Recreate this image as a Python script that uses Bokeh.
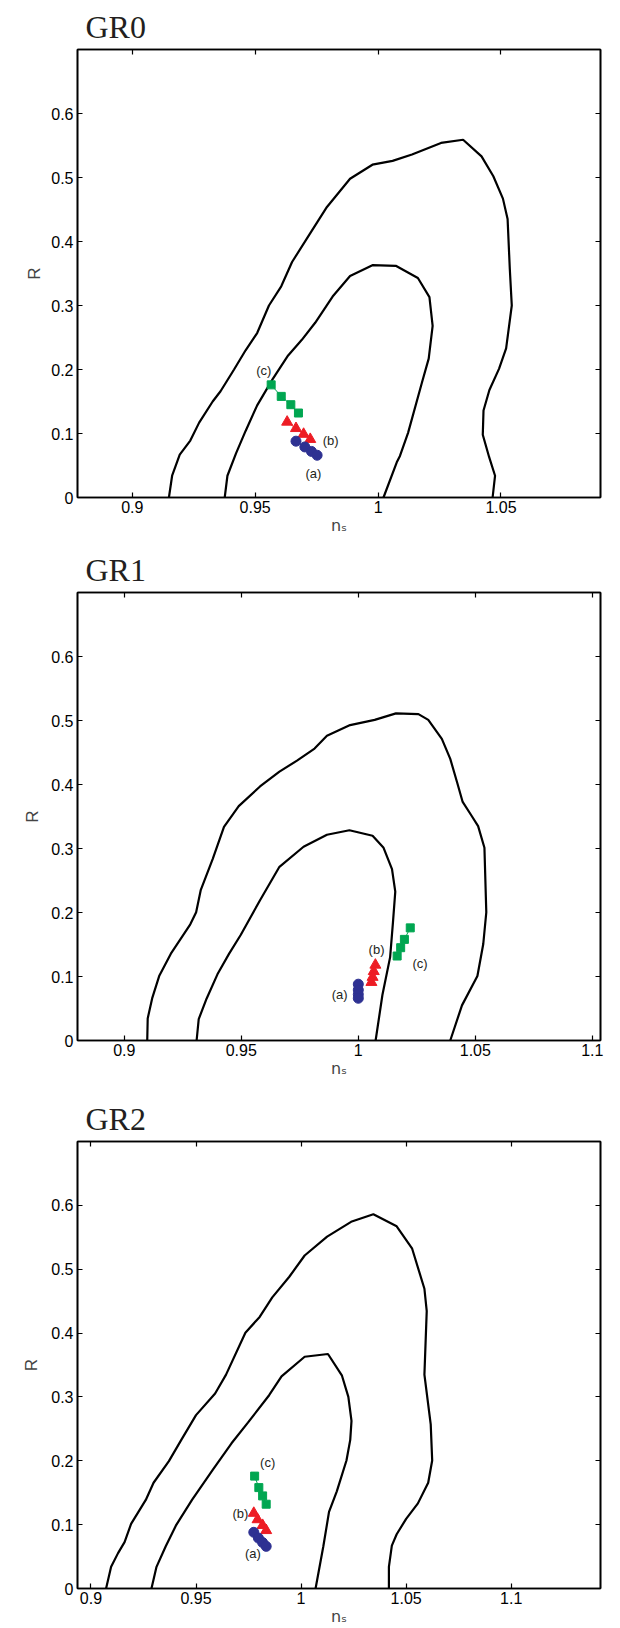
from bokeh.plotting import figure
from bokeh.layouts import column
from bokeh.models import LinearAxis, Range1d, FixedTicker
from bokeh.embed import file_html
from bokeh.resources import INLINE
from bokeh.core.properties import value

# ---------------- data ----------------
titles = ["GR0", "GR1", "GR2"]
x_label = "n\u209b"
y_label = "R"
x_ranges = [(0.8777, 1.0905), (0.8800, 1.1035), (0.8936, 1.1425)]
x_ticks = [[0.9, 0.95, 1.0, 1.05], [0.9, 0.95, 1.0, 1.05, 1.1], [0.9, 0.95, 1.0, 1.05, 1.1]]
x_tick_labels = {0.9: "0.9", 0.95: "0.95", 1.0: "1", 1.05: "1.05", 1.1: "1.1"}
y_ticks = [0, 0.1, 0.2, 0.3, 0.4, 0.5, 0.6]
y_tick_labels = {0: "0", 0.1: "0.1", 0.2: "0.2", 0.3: "0.3", 0.4: "0.4", 0.5: "0.5", 0.6: "0.6"}

# GR0 contours
gr0_outer_ns = [0.9149, 0.9162, 0.9193, 0.9236, 0.9272, 0.9327, 0.9359, 0.9414, 0.9461, 0.9508,
                0.9556, 0.9606, 0.9650, 0.9721, 0.9792, 0.9886, 0.9977, 1.0059, 1.0138, 1.0256,
                1.0346, 1.0421, 1.0469, 1.0508, 1.0527, 1.0536, 1.0544, 1.0521, 1.0492, 1.0453,
                1.0429, 1.0426, 1.0452, 1.0476, 1.0466]
gr0_outer_r = [0.0, 0.034, 0.067, 0.089, 0.117, 0.150, 0.166, 0.200, 0.230, 0.257,
               0.300, 0.330, 0.368, 0.411, 0.454, 0.498, 0.520, 0.526, 0.536, 0.554,
               0.559, 0.533, 0.502, 0.467, 0.435, 0.357, 0.300, 0.233, 0.201, 0.168,
               0.136, 0.098, 0.063, 0.034, 0.0]
gr0_inner_ns = [0.9376, 0.9387, 0.9422, 0.9461, 0.9508, 0.9571, 0.9634, 0.9689, 0.9744, 0.9815,
                0.9886, 0.9977, 1.0072, 1.0162, 1.0209, 1.0222, 1.0206, 1.0178, 1.0122, 1.0089,
                1.0076, 1.0022]
gr0_inner_r = [0.0, 0.034, 0.069, 0.104, 0.144, 0.185, 0.222, 0.246, 0.273, 0.314,
               0.346, 0.363, 0.362, 0.343, 0.313, 0.268, 0.217, 0.179, 0.101, 0.065,
               0.055, 0.0]

# GR1 contours
gr1_outer_ns = [0.9098, 0.9100, 0.9119, 0.9149, 0.9199, 0.9282, 0.9307, 0.9327, 0.9378, 0.9426,
                0.9489, 0.9580, 0.9663, 0.9738, 0.9813, 0.9866, 0.9965, 1.0070, 1.0161, 1.0257,
                1.0299, 1.0357, 1.0393, 1.0423, 1.0446, 1.0484, 1.0512, 1.0539, 1.0547, 1.0534,
                1.0509, 1.0443, 1.0393]
gr1_outer_r = [0.0, 0.0345, 0.0657, 0.1007, 0.1357, 0.1815, 0.2004, 0.2354, 0.2838, 0.3339,
               0.3662, 0.3969, 0.4201, 0.4373, 0.4562, 0.4761, 0.4928, 0.5009, 0.5111, 0.5100,
               0.5009, 0.4713, 0.4400, 0.4023, 0.3727, 0.3512, 0.3350, 0.3011, 0.2004, 0.1508,
               0.1007, 0.0549, 0.0]
gr1_inner_ns = [0.9309, 0.9318, 0.9352, 0.9398, 0.9448, 0.9498, 0.9580, 0.9663, 0.9766, 0.9866,
                0.9962, 1.0061, 1.0108, 1.0144, 1.0158, 1.0148, 1.0136, 1.0103, 1.0074]
gr1_inner_r = [0.0, 0.0334, 0.0657, 0.1034, 0.1357, 0.1653, 0.2192, 0.2714, 0.3027, 0.3215,
               0.3285, 0.3199, 0.3011, 0.2677, 0.2327, 0.1842, 0.1303, 0.0711, 0.0]

# GR2 contours
gr2_outer_ns = [0.9072, 0.9096, 0.9129, 0.9160, 0.9191, 0.9261, 0.9298, 0.9371, 0.9430, 0.9500,
                0.9591, 0.9643, 0.9735, 0.9803, 0.9863, 0.9944, 1.0017, 1.0124, 1.0238, 1.0344,
                1.0455, 1.0528, 1.0587, 1.0598, 1.0587, 1.0617, 1.0624, 1.0605, 1.0556, 1.0500,
                1.0455, 1.0432, 1.0418, 1.0418]
gr2_outer_r = [0.0, 0.0339, 0.0554, 0.0726, 0.1011, 0.1387, 0.1656, 0.1995, 0.2328, 0.2715,
               0.3054, 0.3349, 0.4005, 0.4253, 0.4559, 0.4882, 0.5215, 0.5511, 0.5742, 0.5860,
               0.5672, 0.5328, 0.4694, 0.4344, 0.3349, 0.2570, 0.2005, 0.1656, 0.1333, 0.1091,
               0.0849, 0.0672, 0.0339, 0.0]
gr2_inner_ns = [0.9288, 0.9312, 0.9356, 0.9404, 0.9481, 0.9582, 0.9669, 0.9747, 0.9848, 0.9907,
                1.0017, 1.0128, 1.0194, 1.0225, 1.0240, 1.0234, 1.0216, 1.0170, 1.0133, 1.0106,
                1.0069]
gr2_inner_r = [0.0, 0.0339, 0.0661, 0.0984, 0.1387, 0.1871, 0.2274, 0.2597, 0.3027, 0.3323,
               0.3629, 0.3672, 0.3339, 0.3000, 0.2624, 0.2328, 0.2005, 0.1522, 0.1199, 0.0661,
               0.0]

# model predictions: R values (same in all panels)
a_r = [0.088, 0.079, 0.072, 0.066]
b_r = [0.118, 0.108, 0.099, 0.091]
c_r = [0.176, 0.158, 0.145, 0.132]
# n_s values per panel
gr0_a_ns = [0.9666, 0.9702, 0.9729, 0.9752]
gr0_b_ns = [0.9630, 0.9666, 0.9697, 0.9724]
gr0_c_ns = [0.9565, 0.9606, 0.9645, 0.9676]
gr1_a_ns = [1.0000, 1.0000, 1.0000, 1.0000]
gr1_b_ns = [1.0073, 1.0066, 1.0061, 1.0056]
gr1_c_ns = [1.0222, 1.0197, 1.0181, 1.0166]
gr2_a_ns = [0.9775, 0.9797, 0.9817, 0.9834]
gr2_b_ns = [0.9775, 0.9793, 0.9817, 0.9834]
gr2_c_ns = [0.9779, 0.9799, 0.9817, 0.9834]

# (a), (b), (c) annotation positions per panel
tag_text = ["(a)", "(b)", "(c)"]
gr0_tag_ns = [0.9737, 0.9807, 0.9535]
gr0_tag_r = [0.038, 0.089, 0.198]
gr1_tag_ns = [0.9920, 1.0078, 1.0264]
gr1_tag_r = [0.072, 0.142, 0.120]
gr2_tag_ns = [0.9771, 0.9711, 0.9841]
gr2_tag_r = [0.055, 0.117, 0.198]

panels = [
    dict(outer=(gr0_outer_ns, gr0_outer_r), inner=(gr0_inner_ns, gr0_inner_r),
         a=gr0_a_ns, b=gr0_b_ns, c=gr0_c_ns, tags=(gr0_tag_ns, gr0_tag_r)),
    dict(outer=(gr1_outer_ns, gr1_outer_r), inner=(gr1_inner_ns, gr1_inner_r),
         a=gr1_a_ns, b=gr1_b_ns, c=gr1_c_ns, tags=(gr1_tag_ns, gr1_tag_r)),
    dict(outer=(gr2_outer_ns, gr2_outer_r), inner=(gr2_inner_ns, gr2_inner_r),
         a=gr2_a_ns, b=gr2_b_ns, c=gr2_c_ns, tags=(gr2_tag_ns, gr2_tag_r)),
]

# ---------------- layout / style ----------------
layout_px = [  # left border, right border, top border, bottom border, height
    (77, 8, 49, 46, 543),
    (70, 15, 49, 52, 549),
    (65, 20, 49, 39, 536),
]
ylabel_standoff = [4, 6, 7]
BLUE = "#2E3192"
RED = "#ED1C24"
GREEN = "#00A651"
SANS = "Liberation Sans"
SERIF = "Liberation Serif"


def style_axis(ax, ticks, overrides, show_labels):
    ax.ticker = FixedTicker(ticks=ticks)
    ax.major_label_overrides = overrides
    ax.major_tick_in = 5
    ax.major_tick_out = 0
    ax.minor_tick_line_color = None
    ax.axis_line_width = 1.6
    ax.axis_line_color = "black"
    ax.major_tick_line_color = "black"
    ax.major_tick_line_width = 1.2
    ax.major_label_text_font = SANS
    ax.major_label_text_font_size = "16px"
    ax.major_label_text_color = "black"
    ax.major_label_standoff = 4
    if not show_labels:
        ax.major_label_text_font_size = "0px"
        ax.major_label_text_alpha = 0.0
        ax.major_label_standoff = 0


figs = []
for i, pd in enumerate(panels):
    left, right, top, bottom, h = layout_px[i]
    p = figure(width=620, height=h, x_range=Range1d(*x_ranges[i]), y_range=Range1d(0, 0.7),
               output_backend="svg", toolbar_location=None, tools="",
               min_border_left=left, min_border_right=right,
               min_border_top=top, min_border_bottom=bottom,
               background_fill_color="white", border_fill_color="white")
    p.xgrid.visible = False
    p.ygrid.visible = False
    p.outline_line_color = "black"
    p.outline_line_width = 1.6

    p.title.text = titles[i]
    p.title.text_font = SERIF
    p.title.text_font_size = "32px"
    p.title.text_font_style = "normal"
    p.title.text_color = "#231F20"
    p.title.align = "left"
    p.title.offset = 8
    p.title.standoff = 9

    style_axis(p.xaxis[0], x_ticks[i], x_tick_labels, True)
    p.xaxis[0].major_label_standoff = 3
    p.xaxis[0].axis_label = x_label
    p.xaxis[0].axis_label_text_font = "DejaVu Sans"
    p.xaxis[0].axis_label_text_font_size = "16px"
    p.xaxis[0].axis_label_text_font_style = "normal"
    p.xaxis[0].axis_label_standoff = 0

    style_axis(p.yaxis[0], y_ticks, y_tick_labels, True)
    p.yaxis[0].axis_label = y_label
    p.yaxis[0].axis_label_text_font = SANS
    p.yaxis[0].axis_label_text_font_size = "17px"
    p.yaxis[0].axis_label_text_font_style = "normal"
    p.yaxis[0].axis_label_standoff = ylabel_standoff[i]

    ax_r = LinearAxis()
    style_axis(ax_r, y_ticks, {}, False)
    p.add_layout(ax_r, "right")
    ax_t = LinearAxis()
    style_axis(ax_t, x_ticks[i], {}, False)
    p.add_layout(ax_t, "above")

    # contours
    ox, oy = pd["outer"]
    ix, iy = pd["inner"]
    p.line(ox, oy, line_color="black", line_width=2.2)
    p.line(ix, iy, line_color="black", line_width=2.2)

    # predictions
    p.line(pd["c"], c_r, line_color=GREEN, line_width=1)
    p.scatter(pd["c"], c_r, marker="square", size=8, fill_color=GREEN, line_color=GREEN)
    p.line(pd["b"], b_r, line_color=RED, line_width=1)
    p.scatter(pd["b"], b_r, marker="triangle", size=11, fill_color=RED, line_color=RED)
    p.line(pd["a"], a_r, line_color=BLUE, line_width=1)
    p.scatter(pd["a"], a_r, marker="circle", size=10, fill_color=BLUE, line_color=BLUE)

    tx, ty = pd["tags"]
    p.text(x=tx, y=ty, text=tag_text, text_font=value(SANS), text_font_size="13px",
           text_color="#231F20", text_align="center", text_baseline="middle")
    figs.append(p)

layout = column(*figs, spacing=0)
open("out.html", "w").write(file_html(layout, INLINE))
